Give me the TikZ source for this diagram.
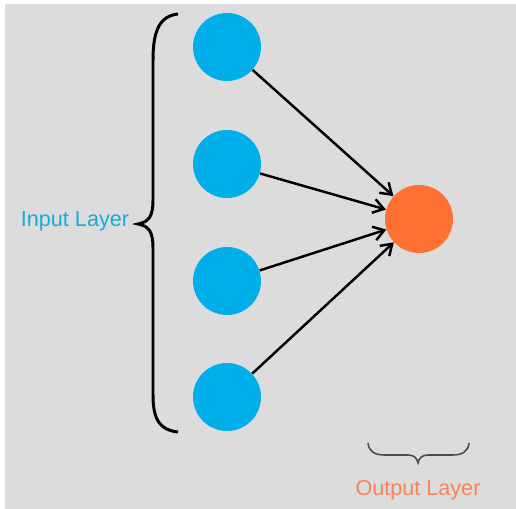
\documentclass[tikz,border=0pt]{standalone}
\usepackage{fontspec}
\setmainfont{Liberation Sans}
\usetikzlibrary{arrows, arrows.meta, positioning}
\definecolor{bgGray}{HTML}{DCDCDC}
\definecolor{inBlue}{HTML}{00AEEA}
\definecolor{outOrange}{HTML}{FF7033}
\definecolor{inText}{HTML}{12ADDA}
\definecolor{outText}{HTML}{F5845A}

\begin{document}
\begin{tikzpicture}[x=0.02cm, y=-0.02cm,
  neuron/.style={circle, minimum size=1.36cm, inner sep=0pt},
  inneuron/.style={neuron, fill=inBlue},
  outneuron/.style={neuron, fill=outOrange},
  link/.style={line width=1.4pt, -{Straight Barb[length=6pt, width=8pt, line width=1.4pt]}},
  layertext/.style={font=\fontsize{12.3}{14}\selectfont}]
\useasboundingbox (0,0) rectangle (516,509);
\fill[white] (0,0) rectangle (516,509);
\fill[bgGray] (5,4) rectangle (516,509);
\node[inneuron] (in1) at (227,47) {};
\node[inneuron] (in2) at (227,164) {};
\node[inneuron] (in3) at (227,281) {};
\node[inneuron] (in4) at (227,397) {};
\node[outneuron] (out) at (419,219) {};
\foreach \i in {1,...,4}
  \draw[link] (in\i) -- (out);
% input brace
\draw[line width=1.7pt] (178,14) .. controls (160,16) and (153,30) .. (153,60) -- (153,200) .. controls (153,216) and (149,222) .. (138,224) .. controls (149,226) and (153,232) .. (153,248) -- (153,395) .. controls (153,420) and (160,430) .. (178,432);
\node[layertext, text=inText] (inlabel) at (75,221) {Input Layer};
% output brace
\draw[line width=0.9pt, black!70] (368,443) .. controls (369,452) and (375,455) .. (385,455) -- (408,455) .. controls (414,455) and (417,458) .. (418,463) .. controls (419,458) and (422,455) .. (428,455) -- (452,455) .. controls (462,455) and (468,452) .. (469,443);
\node[layertext, text=outText] (outlabel) at (418,490) {Output Layer};
\end{tikzpicture}
\end{document}
